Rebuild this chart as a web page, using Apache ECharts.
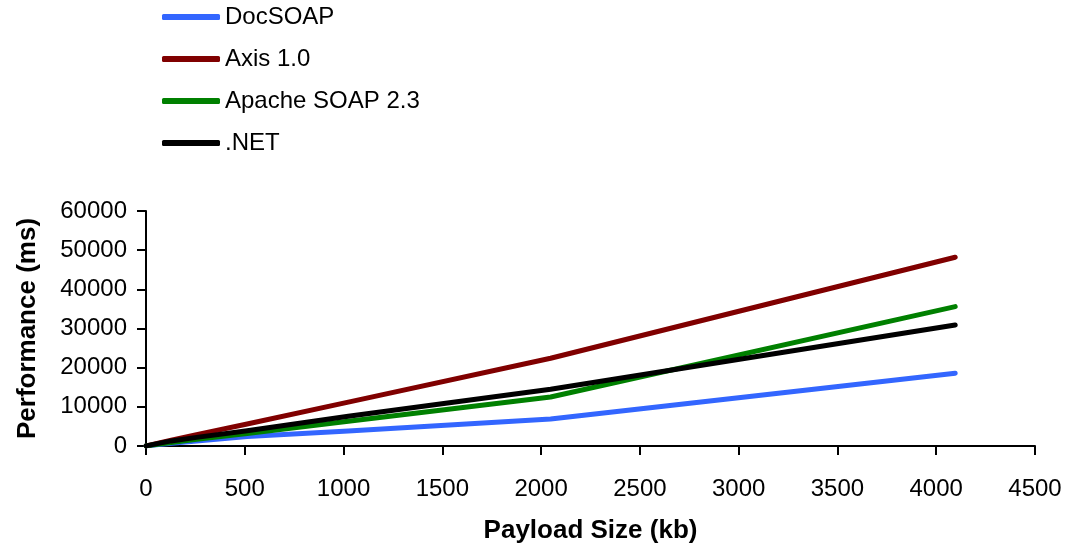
<!DOCTYPE html>
<html><head><meta charset="utf-8">
<script src="https://cdn.jsdelivr.net/npm/echarts@6/dist/echarts.min.js"></script>
<style>html,body{margin:0;padding:0;background:#fff}#c{width:1072px;height:548px}</style>
</head><body><div id="c"></div>
<script>
const payloadKb = [1, 128, 256, 512, 1024, 2048, 4096];
const docSoap = [30, 700, 1300, 2400, 3800, 6900, 18600];
const axis10 = [40, 1500, 2900, 5600, 11200, 22400, 48200];
const apacheSoap = [35, 900, 1700, 3200, 6300, 12500, 35600];
const dotNet = [40, 1300, 2200, 3900, 7600, 14500, 30900];
const seriesNames = ['DocSOAP', 'Axis 1.0', 'Apache SOAP 2.3', '.NET'];
const seriesColors = ['#3366ff', '#800000', '#008000', '#000000'];
const seriesData = [docSoap, axis10, apacheSoap, dotNet];

const chart = echarts.init(document.getElementById('c'));
const font = 'Liberation Sans, Arial, sans-serif';
chart.setOption({
  animation: false,
  backgroundColor: '#fff',
  legend: {
    orient: 'vertical', left: 157, top: 0,
    itemWidth: 58, itemHeight: 6, itemGap: 18,
    icon: 'roundRect',
    textStyle: {fontFamily: font, fontSize: 24, color: '#000'},
    data: seriesNames
  },
  grid: {left: 146, right: 37, top: 211, bottom: 102},
  xAxis: {
    type: 'value', min: 0, max: 4500, interval: 500,
    name: 'Payload Size (kb)', nameLocation: 'middle', nameGap: 72,
    nameTextStyle: {fontFamily: font, fontSize: 26, fontWeight: 'bold', color: '#000'},
    axisLine: {show: true, onZero: false, lineStyle: {color: '#000', width: 2}},
    axisTick: {show: true, inside: false, length: 9, lineStyle: {color: '#000', width: 2}},
    axisLabel: {fontFamily: font, fontSize: 24, color: '#000', margin: 31, formatter: v => String(v)},
    splitLine: {show: false}
  },
  yAxis: {
    type: 'value', min: 0, max: 60000, interval: 10000,
    name: 'Performance (ms)', nameLocation: 'middle', nameGap: 105,
    nameTextStyle: {fontFamily: font, fontSize: 26, fontWeight: 'bold', color: '#000'},
    axisLine: {show: true, lineStyle: {color: '#000', width: 2}},
    axisTick: {show: true, inside: false, length: 9, lineStyle: {color: '#000', width: 2}},
    axisLabel: {fontFamily: font, fontSize: 24, color: '#000', margin: 19, formatter: v => String(v)},
    splitLine: {show: false}
  },
  series: seriesNames.map((n, i) => ({
    name: n, type: 'line', symbol: 'none',
    color: seriesColors[i],
    lineStyle: {width: 5, color: seriesColors[i], cap: 'round', join: 'round'},
    data: payloadKb.map((x, j) => [x, seriesData[i][j]])
  }))
});
</script></body></html>
